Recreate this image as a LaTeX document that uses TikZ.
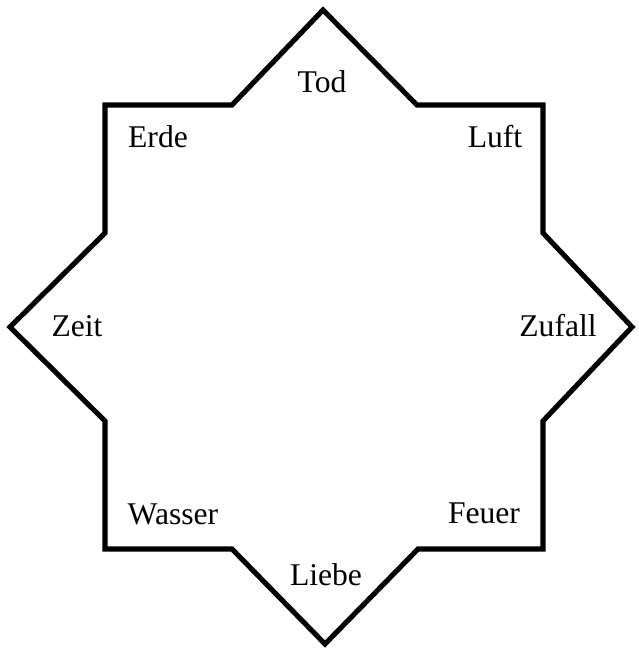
\documentclass[tikz,border=0pt]{standalone}
\usepackage{fontspec}
\setmainfont{Liberation Serif}
\usetikzlibrary{positioning}

\begin{document}
\begin{tikzpicture}[x=0.02cm, y=-0.02cm, auto]
            \tikzset{word/.style={font=\fontsize{18}{21}\selectfont}}
            \useasboundingbox (0,0) rectangle (639,653);

            \coordinate (top) at (323,10);
            \coordinate (bottom) at (325,644);
            \coordinate (left) at (10,327);
            \coordinate (right) at (632,327);

            \draw[line width=2.9pt] (top) -- (417,105) -- (543,105) -- (543,233) -- (right)
                -- (543,421) -- (543,549) -- (418,549) -- (bottom)
                -- (232,549) -- (105,549) -- (105,421) -- (left)
                -- (105,233) -- (105,105) -- (232,105) -- cycle;

            \node[word] (tod) at (322,82) {Tod};
            \node[word] (erde) at (158,137) {Erde};
            \node[word] (luft) at (495,137) {Luft};
            \node[word] (zeit) at (77,326) {Zeit};
            \node[word] (zufall) at (558,326) {Zufall};
            \node[word] (wasser) at (173,514) {Wasser};
            \node[word] (feuer) at (484,513) {Feuer};
            \node[word] (liebe) at (326,575) {Liebe};
        \end{tikzpicture}
\end{document}
